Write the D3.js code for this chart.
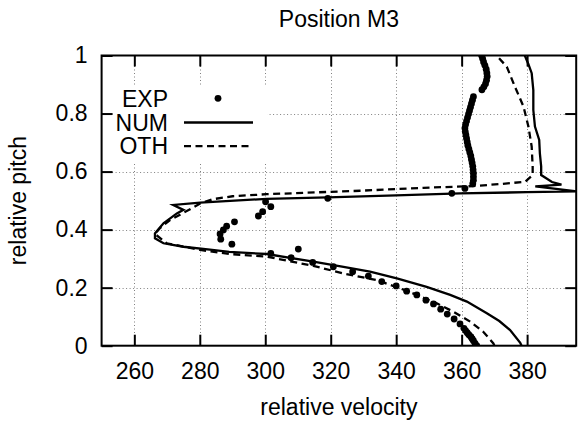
<!DOCTYPE html>
<html><head><meta charset="utf-8">
<script src="https://cdn.jsdelivr.net/npm/d3@7"></script>
<style>
html,body{margin:0;padding:0;background:#fff;}
text{font-family:"Liberation Sans",Arial,Helvetica,sans-serif;fill:#000;}
</style></head>
<body><svg id="c" width="579" height="423"></svg>
<script>
// ---- data ----
const title = "Position M3";
const xLabel = "relative velocity";
const yLabel = "relative pitch";
const xTicks = [260, 280, 300, 320, 340, 360, 380];
const yTicks = [0, 0.2, 0.4, 0.6, 0.8, 1];
const seriesNames = ["EXP", "NUM", "OTH"];

// EXP: [velocity, pitch]
const expData = [
  [366.1,1.0],[366.4,0.99],[366.7,0.978],[367.1,0.966],[367.5,0.953],[367.7,0.94],[367.8,0.928],
  [367.6,0.915],[367.3,0.903],[366.8,0.892],[366.2,0.882],
  [363.6,0.858],[363.3,0.846],[363.0,0.834],[362.7,0.822],[362.4,0.810],[362.1,0.798],[361.8,0.786],
  [361.5,0.774],[361.2,0.762],[361.0,0.750],[361.1,0.738],[361.3,0.726],[361.5,0.714],[361.7,0.702],
  [361.9,0.690],[362.2,0.678],[362.5,0.666],[362.8,0.654],[363.0,0.642],[363.2,0.630],[363.4,0.618],
  [363.5,0.606],[363.6,0.594],[363.6,0.582],[363.6,0.570],[363.4,0.558],
  [361.0,0.542],[357.0,0.525],[319.1,0.508],
  [300.1,0.496],[301.7,0.479],[299.2,0.462],[297.9,0.447],[290.6,0.427],[288.2,0.412],[287.2,0.399],
  [286.2,0.385],[286.4,0.367],[289.8,0.350],[301.7,0.318],[310.1,0.333],[307.9,0.303],
  [314.5,0.287],[320.8,0.272],[326.7,0.255],[331.5,0.240],[335.6,0.221],[340.0,0.206],[343.2,0.188],
  [346.3,0.175],[349.1,0.157],[351.4,0.144],[353.6,0.126],[355.6,0.109],[357.7,0.092],[359.5,0.075],
  [360.7,0.060],[361.2,0.052],[361.7,0.045],[362.2,0.038],[362.8,0.031],[363.2,0.024],[363.6,0.017],
  [364.1,0.008],[364.6,0.0]
];

// NUM (solid)
const numData = [
  [378.3,0.0],[377.9,0.010],[374.8,0.054],[371.5,0.085],[367.7,0.112],[361.6,0.152],[356.5,0.175],
  [349.3,0.203],[340.2,0.232],[332.0,0.255],[323.9,0.272],[314.7,0.290],[300.4,0.316],[289.0,0.323],
  [283.1,0.331],[275.0,0.341],[268.9,0.353],[266.3,0.370],[266.3,0.387],[268.9,0.422],[273.0,0.456],
  [275.0,0.468],[271.9,0.485],[280.1,0.493],[300.4,0.506],[319.1,0.511],[340.0,0.518],[359.5,0.525],
  [380.0,0.529],[395.2,0.532],[382.5,0.549],[390.5,0.555],[387.6,0.564],[384.3,0.588],[384.3,0.617],
  [383.9,0.663],[383.7,0.709],[382.4,0.755],[381.9,0.812],[381.9,0.881],[381.4,0.939],[380.4,0.970],
  [379.3,1.0]
];

// OTH (dashed)
const othData = [
  [370.0,0.0],[369.7,0.008],[366.6,0.048],[362.6,0.083],[357.5,0.117],[352.4,0.146],[343.5,0.188],
  [334.1,0.226],[323.9,0.249],[314.7,0.275],[300.4,0.307],[289.2,0.316],[280.1,0.330],[269.9,0.353],
  [266.3,0.385],[267.8,0.405],[270.9,0.433],[276.0,0.464],[280.1,0.490],[284.1,0.505],[290.0,0.515],
  [300.4,0.522],[329.0,0.534],[348.3,0.544],[363.6,0.550],[371.7,0.557],[379.4,0.565],[381.7,0.588],
  [381.7,0.617],[381.4,0.686],[380.4,0.755],[378.9,0.824],[376.3,0.892],[373.8,0.961],[370.7,1.0]
];

// ---- drawing ----
const svg = d3.select("#c");
const L = 101.6, R = 576.2, T = 55.5, B = 345.7;
const x = d3.scaleLinear().domain([250, 395]).range([L, R]);
const y = d3.scaleLinear().domain([0, 1]).range([B, T]);
const FS = 23;

svg.append("defs").append("clipPath").attr("id","clip")
  .append("rect").attr("x",L).attr("y",T).attr("width",R-L).attr("height",B-T);

// grid
const grid = svg.append("g").attr("stroke","#808080").attr("stroke-width",1).attr("stroke-dasharray","1,2.5");
grid.selectAll(".gx").data(xTicks).join("line")
  .attr("x1",d=>Math.round(x(d))+0.5).attr("x2",d=>Math.round(x(d))+0.5).attr("y1",T).attr("y2",B);
grid.selectAll(".gy").data(yTicks.filter(d=>d>0 && d<1)).join("line")
  .attr("y1",d=>Math.round(y(d))+0.5).attr("y2",d=>Math.round(y(d))+0.5).attr("x1",L).attr("x2",R);

// legend background (opaque key)
svg.append("rect").attr("x",L+1).attr("y",87).attr("width",165).attr("height",75).attr("fill","#fff");

const plot = svg.append("g").attr("clip-path","url(#clip)");
const line = d3.line().x(d=>x(d[0])).y(d=>y(d[1]));
plot.append("path").datum(othData).attr("d",line).attr("fill","none")
  .attr("stroke","#000").attr("stroke-width",2.3).attr("stroke-dasharray","7,4.5");
plot.append("path").datum(numData).attr("d",line).attr("fill","none")
  .attr("stroke","#000").attr("stroke-width",2.3).attr("stroke-linejoin","miter");
plot.selectAll("circle").data(expData).join("circle")
  .attr("cx",d=>x(d[0])).attr("cy",d=>y(d[1])).attr("r",3.4).attr("fill","#000");

// axes: ticks inward on all sides
const tk = 11;
const axB = svg.append("g").attr("transform",`translate(0,${B})`)
  .call(d3.axisBottom(x).tickValues(xTicks).tickSizeInner(-tk).tickSizeOuter(0).tickPadding(17).tickFormat(d3.format("d")));
const axT = svg.append("g").attr("transform",`translate(0,${T})`)
  .call(d3.axisTop(x).tickValues(xTicks).tickSizeInner(-tk).tickSizeOuter(0).tickFormat(""));
const axL = svg.append("g").attr("transform",`translate(${L},0)`)
  .call(d3.axisLeft(y).tickValues(yTicks).tickSizeInner(-tk).tickSizeOuter(0).tickPadding(14).tickFormat(d=>String(+d.toFixed(1))));
const axR = svg.append("g").attr("transform",`translate(${R},0)`)
  .call(d3.axisRight(y).tickValues(yTicks).tickSizeInner(-tk).tickSizeOuter(0).tickFormat(""));
[axB,axT,axL,axR].forEach(a=>{
  a.select(".domain").remove();
  a.selectAll(".tick line").attr("stroke","#000").attr("stroke-width",2);
  a.selectAll("text").attr("font-size",FS).attr("font-family",null);
});
axB.selectAll(".tick text").attr("dy","0.72em");

// border
svg.append("rect").attr("x",L).attr("y",T).attr("width",R-L).attr("height",B-T)
  .attr("fill","none").attr("stroke","#000").attr("stroke-width",2);

// titles
svg.append("text").attr("x",(L+R)/2).attr("y",27).attr("text-anchor","middle").attr("font-size",FS).text(title);
svg.append("text").attr("x",(L+R)/2).attr("y",415).attr("text-anchor","middle").attr("font-size",FS).text(xLabel);
svg.append("text").attr("transform",`translate(26,${(T+B)/2}) rotate(-90)`).attr("text-anchor","middle").attr("font-size",FS).text(yLabel);

// legend
const legY = [98.3, 122.5, 146.2];
const lg = svg.append("g");
seriesNames.forEach((n,i)=>{
  lg.append("text").attr("x",168).attr("y",legY[i]).attr("dy","0.36em").attr("text-anchor","end").attr("font-size",FS).text(n);
});
lg.append("circle").attr("cx",218).attr("cy",legY[0]).attr("r",3.4).attr("fill","#000");
lg.append("line").attr("x1",184).attr("x2",253).attr("y1",legY[1]).attr("y2",legY[1]).attr("stroke","#000").attr("stroke-width",2.3);
lg.append("line").attr("x1",184).attr("x2",253).attr("y1",legY[2]).attr("y2",legY[2]).attr("stroke","#000").attr("stroke-width",2.3).attr("stroke-dasharray","7,4.5");
</script></body></html>
